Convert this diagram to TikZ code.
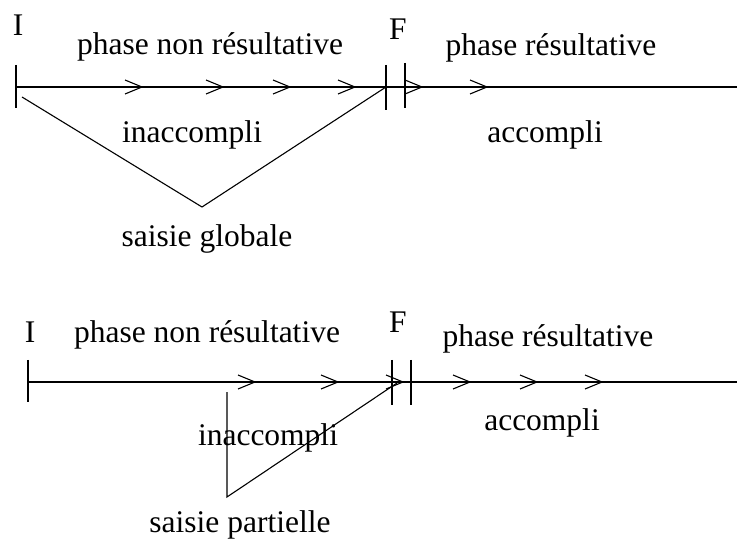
\documentclass[tikz,border=0pt]{standalone}
\usepackage{fontspec}
\setmainfont{Liberation Serif}
\usepackage{tikz}
\usetikzlibrary{arrows.meta}

\tikzset{
  lbl/.style={anchor=base, inner sep=0pt, font=\fontsize{31.5}{36}\selectfont},
  tick/.style={line width=1.1pt},
  chev/.style={line width=1.1pt, line join=miter}
}

\begin{document}
\begin{tikzpicture}[x=1pt, y=-1pt, line width=1.1pt]
            \useasboundingbox (0,0) rectangle (737,540);
            % Saisie globale
            \coordinate (gI) at (16,87);
            \coordinate (gF) at (386,87);
            \coordinate (gR) at (405,87);
            \coordinate (gE) at (737,87);
            \coordinate (gS) at (22,97);
            \coordinate (gV) at (202,207);
            \draw (gI) -- (gE);
            \draw[tick] (16,65) -- (16,108);
            \draw[tick] (386,65) -- (386,110);
            \draw[tick] (405,63) -- (405,108);
            \foreach \t in {142,223,290,355,422,487}
                \draw[chev] ({\t-17},80) -- (\t,87) -- ({\t-17},94);
            \draw (gS) -- (gV) -- (gF);
            % Saisie partielle
            \coordinate (pI) at (28,382);
            \coordinate (pF) at (392,382);
            \coordinate (pR) at (411,382);
            \coordinate (pE) at (737,382);
            \coordinate (pT) at (227,392);
            \coordinate (pB) at (227,497);
            \coordinate (pD) at (397,383);
            \draw (pI) -- (pE);
            \draw[tick] (28,360) -- (28,402);
            \draw[tick] (392,360) -- (392,405);
            \draw[tick] (411,360) -- (411,405);
            \foreach \t in {255,338,403,470,537,602}
                \draw[chev] ({\t-17},375) -- (\t,382) -- ({\t-17},389);
            \draw (pT) -- (pB) -- (pD);
            % Labels
            \node[lbl] (gIlab) at (18,36) {I};
            \node[lbl] (gFlab) at (398,40) {F};
            \node[lbl] (gnr) at (210,55) {phase non résultative};
            \node[lbl] (gr) at (551,56) {phase résultative};
            \node[lbl] (ginac) at (192,143) {inaccompli};
            \node[lbl] (gacc) at (545,143) {accompli};
            \node[lbl] (gsais) at (207,247) {saisie globale};
            \node[lbl] (pIlab) at (30,342) {I};
            \node[lbl] (pFlab) at (398,333) {F};
            \node[lbl] (pnr) at (207,343) {phase non résultative};
            \node[lbl] (pr) at (548,347) {phase résultative};
            \node[lbl] (pinac) at (268,445) {inaccompli};
            \node[lbl] (pacc) at (542,430) {accompli};
            \node[lbl] (psais) at (240,532) {saisie partielle};
        \end{tikzpicture}
\end{document}
